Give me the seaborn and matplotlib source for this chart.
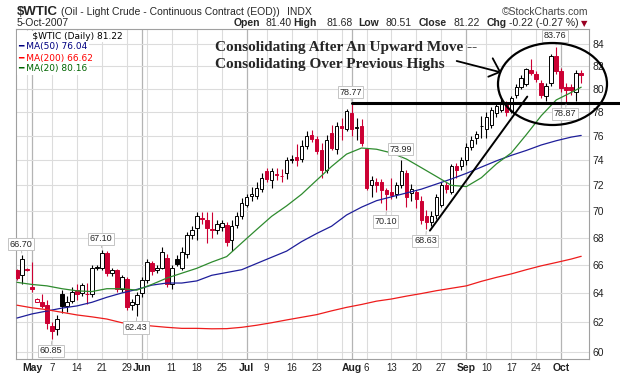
import numpy as np
import pandas as pd
import matplotlib
matplotlib.use('Agg')
import matplotlib.pyplot as plt
from matplotlib.patches import Ellipse, Rectangle
from matplotlib.lines import Line2D
import seaborn as sns

# trading days on the chart (exchange holidays removed)
days = pd.bdate_range('2007-04-26', '2007-10-05')
days = days.drop(pd.to_datetime(['2007-05-28', '2007-07-04', '2007-09-03']))

# daily candles
opens = [65.6, 65.3, 65.7, 64.45, 63.4, 63.4, 63.15, 61.7, 61.55, 63.9,
         63.1, 63.45, 64.2, 64.0, 63.95, 63.9, 65.8, 65.8, 66.85, 65.4,
         65.6, 64.25, 65.0, 63.15, 63.2, 64.0, 64.9, 66.1, 65.6, 65.8,
         66.5, 64.6, 66.45, 65.8, 66.8, 68.2, 68.7, 69.45, 69.3, 68.65,
         68.6, 68.8, 68.95, 67.8, 68.95, 69.6, 70.5, 71.2, 71.2, 71.75,
         73.1, 72.45, 72.9, 72.75, 72.95, 74.05, 74.3, 74.1, 75.2, 76.1,
         75.75, 74.8, 73.25, 76.25, 74.95, 76.8, 76.6, 77.9, 76.65, 76.8,
         74.9, 72.0, 72.3, 72.25, 71.6, 71.5, 71.3, 72.0, 73.0, 71.4,
         71.5, 70.8, 69.6, 69.2, 69.7, 70.5, 72.0, 71.5, 73.5, 73.5,
         74.0, 75.05, 75.8, 76.8, 76.6, 76.9, 77.9, 78.2, 78.8, 78.1,
         79.5, 80.2, 80.45, 81.7, 81.3, 80.55, 79.4, 80.5, 82.95, 81.6,
         80.2, 80.15, 79.7, 81.40]
highs = [65.7, 66.70, 65.75, 66.2, 63.65, 63.9, 63.5, 62.0, 62.5, 64.2,
         63.8, 64.4, 64.6, 64.7, 64.7, 66.0, 66.0, 67.10, 67.0, 65.75,
         65.7, 65.3, 65.1, 63.6, 64.1, 65.1, 66.4, 66.3, 66.0, 67.3,
         66.8, 66.0, 66.7, 67.3, 68.4, 68.9, 69.9, 69.9, 69.9, 69.9,
         69.3, 69.3, 69.2, 69.3, 69.9, 71.0, 71.3, 71.9, 72.3, 73.0,
         73.4, 73.4, 73.4, 73.3, 74.3, 74.4, 75.3, 75.7, 76.4, 76.5,
         76.0, 75.4, 76.1, 76.9, 77.2, 77.5, 78.3, 78.77, 77.5, 77.4,
         75.0, 72.7, 72.6, 72.5, 71.8, 72.6, 72.3, 73.99, 73.2, 72.1,
         71.6, 71.2, 70.1, 70.0, 71.3, 72.3, 72.3, 73.7, 73.8, 74.3,
         75.4, 76.0, 76.4, 77.7, 78.0, 78.4, 78.8, 79.1, 79.0, 79.4,
         80.4, 81.2, 81.9, 82.7, 81.6, 80.8, 80.5, 83.1, 83.76, 81.9,
         80.5, 80.4, 81.7, 81.68]
lows = [64.9, 64.6, 65.55, 64.1, 63.35, 62.95, 61.5, 60.85, 61.1, 62.6,
        62.7, 63.3, 63.5, 63.8, 63.2, 63.7, 65.6, 65.6, 65.2, 65.2,
        64.1, 64.1, 62.8, 62.8, 62.43, 63.7, 64.7, 65.3, 65.4, 65.7,
        64.4, 64.3, 65.9, 65.6, 66.5, 67.9, 67.8, 69.0, 67.6, 68.0,
        68.3, 68.5, 67.4, 67.0, 68.7, 69.4, 70.3, 70.8, 70.9, 71.5,
        72.3, 71.8, 72.4, 72.3, 72.5, 73.8, 73.5, 73.9, 74.9, 75.5,
        74.5, 72.6, 73.0, 74.8, 74.5, 75.7, 76.4, 76.0, 75.7, 75.2,
        71.6, 71.1, 71.5, 70.6, 70.10, 70.9, 71.0, 71.8, 70.3, 70.8,
        70.2, 69.0, 68.63, 68.9, 69.4, 70.3, 71.4, 71.3, 72.6, 73.2,
        73.6, 74.8, 75.3, 75.8, 75.8, 76.7, 77.6, 78.0, 77.7, 77.9,
        79.2, 80.0, 80.3, 81.2, 80.6, 79.2, 79.0, 80.3, 81.3, 79.7,
        78.87, 79.5, 79.0, 80.51]
closes = [65.05, 66.4, 65.6, 64.3, 63.6, 63.1, 61.9, 61.4, 62.2, 63.1,
          63.4, 64.1, 63.95, 64.55, 63.9, 65.8, 65.85, 66.85, 65.45, 65.6,
          64.3, 65.1, 63.0, 63.4, 63.85, 64.95, 66.2, 65.55, 65.8, 66.9,
          64.6, 65.8, 66.05, 66.9, 68.2, 68.55, 69.6, 69.4, 68.75, 68.6,
          69.0, 69.1, 67.7, 68.9, 69.6, 70.6, 71.1, 71.35, 71.8, 72.6,
          72.5, 73.1, 72.85, 72.7, 74.05, 74.1, 74.0, 75.2, 76.0, 75.75,
          74.75, 73.2, 75.7, 75.0, 76.85, 76.7, 78.1, 76.6, 76.75, 75.4,
          71.8, 72.4, 72.0, 71.6, 71.3, 71.25, 72.0, 73.1, 71.1, 71.75,
          70.9, 69.3, 69.15, 69.6, 71.1, 72.0, 71.7, 73.5, 73.2, 74.0,
          75.1, 75.65, 76.15, 76.85, 77.6, 78.2, 78.5, 78.9, 78.0, 79.2,
          80.2, 80.95, 81.75, 81.45, 80.86, 79.5, 80.3, 82.9, 81.55, 80.1,
          79.95, 79.9, 81.44, 81.22]

# moving averages read every third trading day
ma_days = list(range(0, 112, 3)) + [113]
ma50 = [62.27, 62.55, 62.75, 62.95, 63.1, 63.35, 63.7, 64.0, 64.25, 64.55,
        64.7, 64.7, 64.85, 65.25, 65.45, 65.65, 66.1, 66.55, 67.0, 67.7,
        68.3, 68.85, 69.7, 70.3, 70.8, 71.1, 71.4, 71.7, 72.1, 72.5,
        72.95, 73.45, 73.95, 74.4, 74.8, 75.25, 75.6, 75.9, 76.04]
ma200 = [63.15, 62.97, 62.84, 62.66, 62.48, 62.35, 62.2, 61.95, 61.83, 61.73,
         61.64, 61.57, 61.57, 61.54, 61.55, 61.64, 61.78, 61.95, 62.14, 62.32,
         62.5, 62.76, 63.0, 63.2, 63.43, 63.58, 63.78, 63.96, 64.16, 64.33,
         64.5, 64.82, 65.1, 65.35, 65.65, 65.93, 66.17, 66.42, 66.62]
ma20 = [64.75, 64.6, 64.5, 64.3, 64.15, 64.1, 64.3, 64.3, 64.2, 64.6,
        65.05, 65.4, 65.75, 66.2, 66.6, 67.6, 68.6, 69.6, 70.4, 71.3,
        72.4, 73.5, 74.5, 75.0, 74.9, 74.6, 74.1, 73.4, 72.7, 72.0,
        71.9, 72.6, 73.7, 74.6, 76.1, 77.7, 79.05, 79.7, 80.16]

# labelled swing highs / lows (trading-day positions)
high_marks = [1, 17, 67, 77, 108]
low_marks = [7, 24, 74, 82, 110]

y_ticks = [60, 62, 64, 66, 68, 70, 72, 74, 76, 78, 80, 82, 84]

RED = '#cc0033'
W, H = 620, 376

sns.set_style('white')
fig = plt.figure(figsize=(6.2, 3.76), dpi=100)
ax = fig.add_axes([16 / W, 17 / H, 572.7 / W, 330 / H])
ax.set_yscale('log')


def px(x, y):
    # figure pixel (from top-left) -> figure fraction
    return x / W, 1 - y / H


n = len(days)
xi = np.arange(n)
o, h, l, c = map(np.array, (opens, highs, lows, closes))
prev = np.r_[np.inf, c[:-1]]
edge = np.where(c >= prev, 'black', RED)
face = np.where(c < o, edge, 'white')

# grid
month_idx = [i for i in range(1, n) if days[i].month != days[i - 1].month]
week_idx = [i for i in range(1, n)
            if days[i].dayofweek <= days[i - 1].dayofweek and i not in month_idx]
for i in week_idx:
    ax.axvline(i, color='#dcdcdc', lw=0.8, zorder=0)
for i in month_idx:
    ax.axvline(i, color='#b4b4b4', lw=0.9, zorder=0)
for v in y_ticks:
    ax.axhline(v, color='#dcdcdc', lw=0.8, zorder=0)

# candles
ax.vlines(xi, l, h, colors=edge, lw=0.8, zorder=2)
bottom = np.minimum(o, c)
height = np.maximum(np.abs(c - o), 0.02)
ax.bar(xi, height, bottom=bottom, width=0.72, color=face, edgecolor=edge,
       linewidth=0.7, zorder=3)

# moving averages
ma_df = pd.DataFrame({'day': ma_days, 'ma50': ma50, 'ma200': ma200, 'ma20': ma20})
for col, colr in [('ma50', '#1e1e9a'), ('ma200', '#ee1c1c'), ('ma20', '#2e8b2e')]:
    sns.lineplot(data=ma_df, x='day', y=col, color=colr, lw=0.9, ax=ax,
                 legend=False, zorder=4)

# swing labels
for i in high_marks:
    ax.annotate(f'{h[i]:.2f}', (i, h[i]), xytext=(-0.7, 8), textcoords='offset points',
                ha='center', va='center', fontsize=6.5, family='Liberation Sans',
                bbox=dict(boxstyle='square,pad=0.18', fc='white', ec='#c4c4c4', lw=0.7),
                arrowprops=dict(arrowstyle='-', color='#b0b0b0', lw=0.6,
                                shrinkA=0, shrinkB=1.5), zorder=7)
for i in low_marks:
    ax.annotate(f'{l[i]:.2f}', (i, l[i]), xytext=(-0.7, -8.5), textcoords='offset points',
                ha='center', va='center', fontsize=6.5, family='Liberation Sans',
                bbox=dict(boxstyle='square,pad=0.18', fc='white', ec='#c4c4c4', lw=0.7),
                arrowprops=dict(arrowstyle='-', color='#b0b0b0', lw=0.6,
                                shrinkA=0, shrinkB=1.5), zorder=7)

# hand-drawn markup
ax.plot([67, 120.8], [78.77, 78.77], color='black', lw=2.2, clip_on=False, zorder=6)
ax.plot([82.7, 102.2], [68.52, 79.34], color='black', lw=1.4, zorder=6)
fig.add_artist(Ellipse(px(552.5, 84), 109 / W, 82 / H, transform=fig.transFigure,
                       fill=False, ec='black', lw=1.6))
for seg in [[(456.7, 61), (498.3, 71.7)], [(492.7, 58.3), (499.5, 71.0)],
            [(488.3, 76.7), (498.5, 72.5)]]:
    (x0, y0), (x1, y1) = px(*seg[0]), px(*seg[1])
    fig.add_artist(Line2D([x0, x1], [y0, y1], color='black', lw=1.3,
                          transform=fig.transFigure))
fig.text(*px(215, 50.5), 'Consolidating After An Upward Move --', family='Liberation Serif',
         fontweight='bold', fontsize=11, va='baseline')
fig.text(*px(215, 68), 'Consolidating Over Previous Highs', family='Liberation Serif',
         fontweight='bold', fontsize=11, va='baseline')

# axes
ax.set_xlim(-0.2, 114.5)
ax.set_ylim(59.54, 85.43)
ax.set_xlabel('')
ax.set_ylabel('')
ax.yaxis.tick_right()
ax.set_yticks(y_ticks)
ax.set_yticklabels([str(v) for v in y_ticks])
ax.minorticks_off()
ax.tick_params(axis='y', length=0, pad=2.5, labelsize=7.5, labelcolor='#222222')
ticks = sorted(week_idx + month_idx)
labels = []
for i in ticks:
    if i in month_idx:
        labels.append(days[i].strftime('%b'))
    elif min(abs(i - m) for m in month_idx) > 2:
        labels.append(str(days[i].day))
    else:
        labels.append('')
ax.set_xticks(ticks)
ax.set_xticklabels(labels)
ax.tick_params(axis='x', length=0, pad=3, labelsize=7, labelcolor='#222222')
for t in ax.get_xticklabels() + ax.get_yticklabels():
    t.set_family('Liberation Sans')
for t in ax.get_xticklabels():
    if t.get_text().isalpha():
        t.set_fontweight('bold')
        t.set_fontsize(7.5)
for s in ax.spines.values():
    s.set_color('#a0a0a0')
    s.set_linewidth(0.8)

# legend rows
leg = [('     $WTIC (Daily) 81.22', 'black', 36.5),
       ('━ MA(50) 76.04', '#000080', 47),
       ('━ MA(200) 66.62', '#ff0000', 58),
       ('━ MA(20) 80.16', '#006400', 69)]
for txt, colr, yy in leg:
    fig.text(*px(18, yy), txt, color=colr, fontsize=6.5, family='DejaVu Sans',
             va='center', ha='left',
             bbox=dict(boxstyle='square,pad=0.15', fc='white', ec='none'))
# tiny candle icon
for (x0, y0, hh, fc), (wx, wy0, wy1) in [((19.5, 34, 4, 'white'), (20.7, 32.5, 40)),
                                          ((23.5, 35, 3.5, 'black'), (24.7, 33, 40.5)),
                                          ((27, 33.5, 3, 'white'), (28.2, 32.5, 39))]:
    fig.add_artist(Line2D([wx / W, wx / W], [1 - wy0 / H, 1 - wy1 / H], color='black',
                          lw=0.6, transform=fig.transFigure))
    fig.add_artist(Rectangle(px(x0, y0 + hh), 2.4 / W, hh / H, transform=fig.transFigure,
                             fc=fc, ec='black', lw=0.6))

# header
fig.text(*px(17, 15), '$WTIC', fontsize=9.5, fontweight='bold', family='Liberation Sans',
         va='baseline')
fig.text(*px(61, 14.7), '(Oil - Light Crude - Continuous Contract (EOD))', fontsize=7.5,
         family='Liberation Sans', va='baseline')
fig.text(*px(287, 14.7), 'INDX', fontsize=7.5, family='Liberation Sans', va='baseline')
fig.text(*px(588, 14.7), '©StockCharts.com', fontsize=7.5, family='Liberation Sans',
         va='baseline', ha='right', color='#444444')
fig.text(*px(16.7, 26.5), '5-Oct-2007', fontsize=7.5, family='Liberation Sans', va='baseline')
for x, txt, bold in [(233.3, 'Open', True), (265, '81.40', False), (293, 'High', True),
                     (326.7, '81.68', False), (358.3, 'Low', True), (386, '80.51', False),
                     (418.3, 'Close', True), (453.3, '81.22', False), (486.7, 'Chg', True),
                     (509, '-0.22 (-0.27 %)', False)]:
    fig.text(*px(x, 26.5), txt, fontsize=7.5, family='Liberation Sans', va='baseline',
             fontweight='bold' if bold else 'normal')
fig.text(*px(584.5, 26.5), '▼', fontsize=6, family='DejaVu Sans', va='baseline',
         ha='center', color='#990022')

fig.savefig('out.png', dpi=100, facecolor='white')
